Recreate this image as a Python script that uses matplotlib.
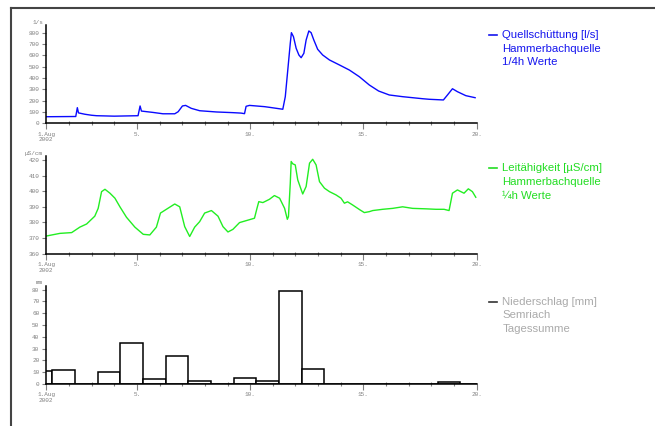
import numpy as np
import matplotlib
matplotlib.use("Agg")
import matplotlib.pyplot as plt
from matplotlib.lines import Line2D

#%% data (day of August 2002)
q_day = [1.0, 2.30, 2.37, 2.42, 2.7, 3.0, 3.22, 4.0, 5.05, 5.14, 5.2, 5.71, 6.15, 6.67,
         6.82, 7.01, 7.15, 7.40, 7.77, 8.51, 9.24, 9.6, 9.75, 9.82, 9.97, 10.63,
         10.85, 11.44, 11.55, 11.66, 11.77, 11.82, 11.91, 12.03, 12.15, 12.25, 12.37,
         12.47, 12.59, 12.69, 12.81, 12.98, 13.20, 13.50, 13.94, 14.38, 14.82, 15.26,
         15.67, 16.14, 16.73, 17.61, 17.90, 18.53, 18.71, 18.93, 19.15, 19.52, 19.93]
q_val = [58, 60, 138, 92, 80, 71, 67, 63, 67, 153, 108, 96, 84, 84,
         102, 153, 158, 132, 111, 100, 94, 90, 85, 150, 158, 147,
         141, 124, 235, 470, 706, 800, 765, 662, 603, 579, 618,
         735, 815, 800, 735, 653, 603, 559, 515, 470, 411, 338,
         285, 250, 235, 217, 212, 206, 250, 305, 279, 244, 226]

lf_day = [1.0, 1.60, 2.12, 2.48, 2.78, 3.14, 3.29, 3.44, 3.59, 3.81, 4.03, 4.25,
          4.54, 4.91, 5.28, 5.57, 5.86, 6.04, 6.30, 6.67, 6.89, 7.11, 7.33, 7.55,
          7.77, 7.99, 8.29, 8.58, 8.80, 9.02, 9.24, 9.53, 10.19, 10.30, 10.38, 10.56,
          10.85, 11.07, 11.30, 11.52, 11.64, 11.69, 11.77, 11.81, 11.88, 11.99, 12.10,
          12.32, 12.47, 12.62, 12.76, 12.91, 13.06, 13.28, 13.50, 13.79, 14.01, 14.16,
          14.30, 14.52, 14.85, 15.04, 15.26, 15.41, 15.85, 16.29, 16.73, 17.17, 17.76,
          18.20, 18.56, 18.78, 18.93, 19.15, 19.30, 19.44, 19.63, 19.81, 19.96]
lf_val = [371.3, 373, 373.5, 377, 379, 384, 389, 399.7, 401.2, 398.7, 395.5, 390,
          383.3, 377, 372.4, 372, 377, 386, 388.4, 391.8, 390, 377.3, 371, 377,
          380.5, 386, 387.6, 384, 377.3, 373.9, 375.6, 379.9, 382.7, 389, 393.3, 392.7,
          394.8, 397.2, 395.5, 389, 382, 383.7, 405, 419, 417.5, 416.8, 407.2,
          398.2, 403, 417.9, 420.4, 416.8, 406.1, 401.9, 399.7, 397.6, 395.5, 392.3,
          393.2, 391.2, 388, 386.3, 386.9, 387.6, 388.4, 389, 390, 389, 388.7,
          388.4, 388.4, 387.6, 398.7, 400.8, 399.7, 398.7, 401.5, 399.7, 396.1]

# daily precipitation sums (7:00 to 7:00)
p_day = [0.27, 1.27, 2.27, 3.27, 4.27, 5.27, 6.27, 7.27, 8.27, 9.27,
         10.27, 11.27, 12.27, 13.27, 14.27, 15.27, 16.27, 17.27, 18.27, 19.27]
p_val = [10.8, 12, 0.3, 10.3, 34.5, 4.6, 23.5, 2.5, 0.3, 4.8,
         2.3, 79, 12.3, 0.2, 0.1, 0.1, 0.1, 0.2, 1.3, 0.3]

day_ticks = [1, 5, 10, 15, 20]
day_labels = ["1.Aug\n2002", "5.", "10.", "15.", "20."]

#%%
W, H = 655, 426
fig = plt.figure(figsize=(W / 100, H / 100), dpi=100)

tick_font = dict(family="Liberation Mono", size=4.3)
tick_col = "#808080"

def make_ax(top, bottom, ylim, yticks, unit):
    ax = fig.add_axes([46.3 / W, 1 - bottom / H, 430.4 / W, (bottom - top) / H])
    ax.set_xlim(1, 20)
    ax.set_ylim(*ylim)
    for s in ["top", "right"]:
        ax.spines[s].set_visible(False)
    for s in ["left", "bottom"]:
        ax.spines[s].set_linewidth(1.1)
    ax.set_yticks(yticks)
    ax.set_xticks(day_ticks)
    ax.set_xticklabels(day_labels)
    ax.set_xticks(np.arange(1, 21), minor=True)
    ax.tick_params(axis="y", length=3, width=0.8, pad=2, colors=tick_col)
    ax.tick_params(axis="x", which="major", length=4, width=0.8, pad=2, colors=tick_col)
    ax.tick_params(axis="x", which="minor", direction="inout", length=3, width=0.8, colors=tick_col)
    for lab in ax.get_xticklabels() + ax.get_yticklabels():
        lab.set_fontproperties(tick_font)
    ax.spines["left"].set_color("black")
    ax.spines["bottom"].set_color("black")
    fig.text(43 / W, 1 - (top - 3) / H, unit, ha="right", va="center",
             color=tick_col, **tick_font)
    return ax

ax1 = make_ax(25.3, 123.3, (0, 865), range(0, 900, 100), "1/s")
ax1.plot(q_day, q_val, color="#0a0aff", lw=1.0)

ax2 = make_ax(156, 253.7, (360, 422.5), range(360, 430, 10), "\u00b5S/cm")
ax2.plot(lf_day, lf_val, color="#22ee22", lw=1.0)

ax3 = make_ax(285.7, 384, (0, 83.3), range(0, 90, 10), "mm")
ax3.bar(p_day, p_val, width=1.0, align="edge", color="white",
        edgecolor="black", linewidth=1.1, zorder=2)

# legend texts
legends = [
    (35, "#1515ee", "#1515ee", ["Quellsch\u00fcttung [l/s]", "Hammerbachquelle", "1/4h Werte"]),
    (168.3, "#22dd22", "#22dd22", ["Leit\u00e4higkeit [\u00b5S/cm]", "Hammerbachquelle", "\u00bch Werte"]),
    (301.7, "#aaaaaa", "#333333", ["Niederschlag [mm]", "Semriach", "Tagessumme"]),
]
for y0, tcol, lcol, lines in legends:
    fig.add_artist(Line2D([489 / W, 497 / W], [1 - y0 / H] * 2, color=lcol, lw=1.2))
    for i, t in enumerate(lines):
        fig.text(502.5 / W, 1 - (y0 + 13.7 * i) / H, t, ha="left", va="center",
                 color=tcol, family="Liberation Sans", size=8.2)

# outer frame (left and top edges)
fig.add_artist(Line2D([11 / W, 11 / W], [0, 1 - 8 / H], color="#444444", lw=1.5))
fig.add_artist(Line2D([11 / W, 1], [1 - 8 / H] * 2, color="#444444", lw=1.5))

fig.savefig("out.png", dpi=100)
